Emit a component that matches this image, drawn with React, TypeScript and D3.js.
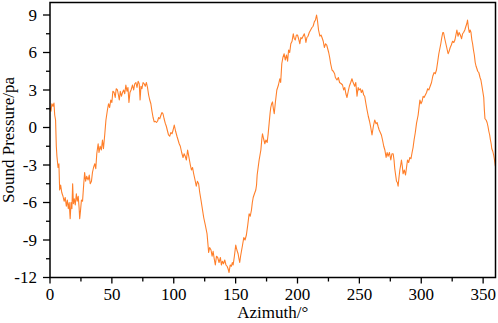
import React from "react";
import * as d3 from "d3";

const azimuth = [
0,0.8,1.5,2.4,3.2,3.8,4.5,5.1,5.6,6.5,7.2,7.8,8.6,9.5,10.5,11.4,12.3,13.2,14.0,14.8,15.5,16.3,17.0,17.7,18.3,18.9,19.6,20.4,21.3,22.0,22.8,23.5,24.0,24.7,25.4,26.3,27.2,28.0,28.8,29.6,30.8,31.7,32.5,33.5,34.3,35.2,36.2,37.0,37.8,38.9,39.6,40.5,41.5,42.4,43.2,44.3,45.2,46.4,47.3,48.2,49.1,50.0,50.8,51.8,52.7,53.5,54.5,55.3,56.0,56.8,57.7,58.6,59.5,60.4,61.3,62.2,63.0,63.8,64.6,65.5,66.7,67.6,68.5,69.4,70.3,71.2,72.1,72.8,73.5,74.3,75.2,76.1,77.0,77.9,78.8,79.7,80.6,81.5,82.4,83.3,84.2,85.1,86.0,86.9,87.8,88.7,89.7,90.5,91.3,92.2,93.1,94.0,95.0,95.8,96.7,97.7,98.6,99.5,100.4,101.5,102.6,103.5,104.4,105.3,106.4,107.5,108.4,109.3,110.2,111.2,112.3,113.4,114.3,115.2,116.1,117.2,118.2,119.1,120.1,121.0,122.0,123.1,124.2,125.5,126.9,127.6,128.2,129.0,130.1,131.0,131.8,132.7,133.6,134.5,135.5,136.6,137.7,138.5,139.3,140.2,141.2,142.2,143.1,143.9,144.7,145.6,146.6,147.3,148.0,149.0,150.1,151.0,152.0,152.7,153.3,154.0,154.7,155.6,156.6,157.6,158.7,159.8,160.9,161.8,162.8,163.5,164.2,165.2,166.3,166.9,167.4,168.2,169.0,169.7,170.4,171.1,171.7,172.6,173.6,174.5,175.5,176.3,177.1,177.9,178.4,179.1,179.8,180.5,181.2,182.1,183.3,184.6,185.7,186.4,187.3,188.2,189.2,190.1,191.1,192.0,192.8,193.7,194.6,195.6,196.6,197.4,198.2,199.1,200.0,200.9,201.9,202.7,203.5,204.5,205.5,206.2,206.8,207.6,208.5,209.5,210.6,211.7,212.6,213.6,214.5,215.4,216.2,217.0,218.1,219.0,219.8,220.8,221.7,222.7,223.6,224.4,225.2,226.0,226.8,227.9,228.9,230.0,230.6,231.9,233.0,234.0,235.4,236.4,237.3,238.2,239.1,240.0,241.0,241.9,243.0,244.0,244.6,245.4,246.2,247.1,248.1,249.0,249.5,250.8,251.6,252.5,253.5,254.3,255.3,256.2,257.2,258.2,259.2,260.2,261.3,262.4,263.5,264.3,265.1,266.0,266.9,267.8,268.7,269.7,270.6,271.6,272.4,273.2,274.3,275.4,276.3,277.3,278.0,278.6,279.3,280.0,280.7,281.3,282.0,282.7,283.4,284.0,284.7,285.3,286.3,287.3,288.1,288.9,289.8,290.8,291.7,292.6,293.4,294.2,295.2,296.2,296.9,297.5,298.2,298.9,299.8,300.7,301.5,302.3,303.3,304.3,305.2,306.1,307.2,308.3,309.3,310.4,311.3,312.3,313.2,314.2,315.0,315.8,316.6,317.4,318.0,319.0,319.9,320.8,321.7,322.5,323.4,324.3,325.3,326.3,327.2,328.0,328.8,329.7,330.6,331.6,332.6,333.4,334.2,335.2,336.1,336.8,337.4,338.1,338.8,339.5,340.2,340.9,341.5,342.2,342.9,343.6,344.3,345.0,345.6,346.5,347.5,348.2,348.9,349.7,350.5,351.0,351.5,352.4,353.2,353.9,354.6,355.3,355.9,356.5,357.0,357.8,358.5,359.2,359.9
];

const pressure = [
1.6,1.3,1.9,1.7,1.95,1.0,0.6,-1.5,-2.3,-3.2,-2.9,-5.0,-4.6,-5.2,-5.5,-5.9,-5.6,-6.3,-5.8,-6.5,-6.0,-7.3,-6.0,-6.5,-4.5,-6.1,-5.7,-6.2,-5.3,-5.9,-5.5,-6.4,-7.3,-6.6,-5.8,-5.9,-4.6,-3.6,-4.3,-3.9,-4.2,-3.8,-4.5,-4.3,-3.6,-3.2,-2.9,-3.3,-2.1,-1.3,-2.0,-1.5,-1.8,-1.0,-1.7,-0.5,0.6,1.4,1.9,1.6,2.2,2.0,2.9,2.8,2.4,3.1,3.0,2.6,2.2,2.9,2.5,2.8,3.0,2.7,3.4,2.9,3.2,2.0,2.8,3.0,3.4,3.0,3.5,3.6,3.2,3.7,3.5,2.2,3.3,3.1,3.6,3.5,3.3,3.6,3.2,2.6,2.2,1.9,1.3,0.8,0.45,0.5,0.4,0.5,0.8,0.7,1.0,1.2,1.1,0.7,0.35,0.1,-0.3,-0.6,-0.7,-0.4,-0.5,-0.2,0.2,-0.3,-0.7,-1.0,-1.3,-1.5,-2.0,-2.4,-2.1,-2.3,-2.6,-1.8,-2.4,-3.0,-3.4,-3.2,-3.7,-4.2,-4.7,-4.3,-4.5,-5.2,-5.8,-6.5,-7.2,-7.8,-8.5,-9.3,-10.0,-9.6,-9.8,-10.3,-9.9,-10.5,-11.0,-10.3,-10.4,-10.8,-10.4,-11.0,-10.7,-10.9,-10.6,-11.0,-11.1,-11.3,-11.6,-11.0,-11.1,-10.8,-11.0,-10.3,-9.4,-9.8,-10.1,-10.5,-10.8,-10.3,-9.9,-9.4,-8.8,-9.0,-8.6,-7.8,-6.9,-7.1,-6.6,-6.0,-5.6,-5.3,-5.0,-4.6,-3.8,-3.2,-2.6,-2.2,-1.8,-1.0,-0.5,-0.9,-1.3,-1.0,-1.2,-0.5,0.35,1.2,1.6,1.9,2.05,1.5,1.1,2.0,3.0,3.4,3.9,3.6,5.1,5.6,5.9,5.4,5.8,5.3,6.2,6.0,6.7,6.9,7.5,7.1,7.0,7.4,7.4,7.1,6.7,7.2,7.1,7.3,7.5,7.2,6.8,7.2,7.3,7.6,7.8,8.0,8.1,8.45,8.6,9.0,8.5,7.8,7.3,7.4,7.2,6.9,6.4,6.7,6.6,6.3,6.0,5.6,5.1,4.6,4.5,4.3,4.0,3.8,4.0,3.6,3.5,3.4,3.0,3.2,2.7,2.4,2.9,3.3,3.6,3.9,3.7,3.5,3.3,3.6,2.5,3.2,3.0,3.1,2.8,3.0,2.6,2.5,1.9,1.4,0.9,0.5,0.0,-0.6,0.1,0.6,0.3,0.4,0.1,-0.2,-0.4,-0.6,-1.0,-1.5,-1.8,-2.4,-2.0,-2.3,-2.0,-2.6,-2.1,-2.1,-2.6,-3.3,-3.8,-4.3,-4.4,-4.7,-4.0,-3.4,-3.0,-2.6,-3.1,-3.7,-3.4,-3.8,-3.2,-2.6,-2.8,-2.4,-2.5,-2.0,-1.6,-1.0,-0.4,0.35,0.7,1.0,1.6,2.2,1.9,2.1,2.5,2.4,2.6,2.8,3.1,3.0,3.3,3.6,4.1,4.4,4.3,4.6,5.2,5.9,6.3,6.7,7.2,7.6,7.6,7.1,6.7,6.3,5.9,6.1,6.4,6.6,6.9,6.8,7.0,7.4,7.8,7.3,7.6,7.4,7.1,7.5,7.6,7.8,8.1,8.3,8.6,8.0,7.6,7.8,7.6,7.0,6.7,6.2,5.8,5.2,4.9,4.7,4.5,4.4,4.0,3.8,3.4,2.9,2.4,1.4,0.7,0.6,0.4,0.1,-0.3,-0.6,-1.0,-1.3,-1.7,-1.9,-2.2,-2.6,-3.1
];

const xTicks = [0, 50, 100, 150, 200, 250, 300, 350];
const xMinorTicks = [25, 75, 125, 175, 225, 275, 325];
const yTicks = [-12, -9, -6, -3, 0, 3, 6, 9];
const yMinorTicks = [-10.5, -7.5, -4.5, -1.5, 1.5, 4.5, 7.5];

const W = 498, H = 323;
const L = 50, R = 495.5, T = 2.5, B = 277.5;
const FONT = "'Liberation Serif', 'Times New Roman', serif";

export default function App() {
  const x = d3.scaleLinear().domain([0, 360]).range([L, R]);
  const y = d3.scaleLinear().domain([-12, 10]).range([B, T]);
  const pts = azimuth.map((a, i) => [a, pressure[i]] as [number, number]);
  const line = d3.line<[number, number]>().x(d => x(d[0])).y(d => y(d[1]));

  return (
    <svg width={W} height={H} style={{ position: "absolute", left: 0, top: 0, background: "#fff" }}>
      <rect x={0} y={0} width={W} height={H} fill="#fff" />
      <path d={line(pts) || ""} fill="none" stroke="#FF7F2A" strokeWidth={1.1} strokeLinejoin="round" />
      <rect x={L} y={T} width={R - L} height={B - T} fill="none" stroke="#000" strokeWidth={1.5} />
      {xTicks.map(t => (
        <g key={"xt" + t}>
          <line x1={x(t)} x2={x(t)} y1={B} y2={B + 6} stroke="#000" strokeWidth={1.3} />
          <text x={x(t)} y={300} textAnchor="middle" fontFamily={FONT} fontSize={17} fill="#000">{t}</text>
        </g>
      ))}
      {xMinorTicks.map(t => (
        <line key={"xm" + t} x1={x(t)} x2={x(t)} y1={B} y2={B + 4} stroke="#000" strokeWidth={1.3} />
      ))}
      {yTicks.map(t => (
        <g key={"yt" + t}>
          <line x1={L - 7} x2={L} y1={y(t)} y2={y(t)} stroke="#000" strokeWidth={1.3} />
          <text x={37} y={y(t)} dy="0.34em" textAnchor="end" fontFamily={FONT} fontSize={17} fill="#000">{t}</text>
        </g>
      ))}
      {yMinorTicks.map(t => (
        <line key={"ym" + t} x1={L - 4} x2={L} y1={y(t)} y2={y(t)} stroke="#000" strokeWidth={1.3} />
      ))}
      <text x={(L + R) / 2} y={318} textAnchor="middle" fontFamily={FONT} fontSize={17} fill="#000">Azimuth/°</text>
      <text transform={`translate(14,${(T + B) / 2}) rotate(-90)`} textAnchor="middle" fontFamily={FONT} fontSize={17} fill="#000">Sound Pressure/pa</text>
    </svg>
  );
}
